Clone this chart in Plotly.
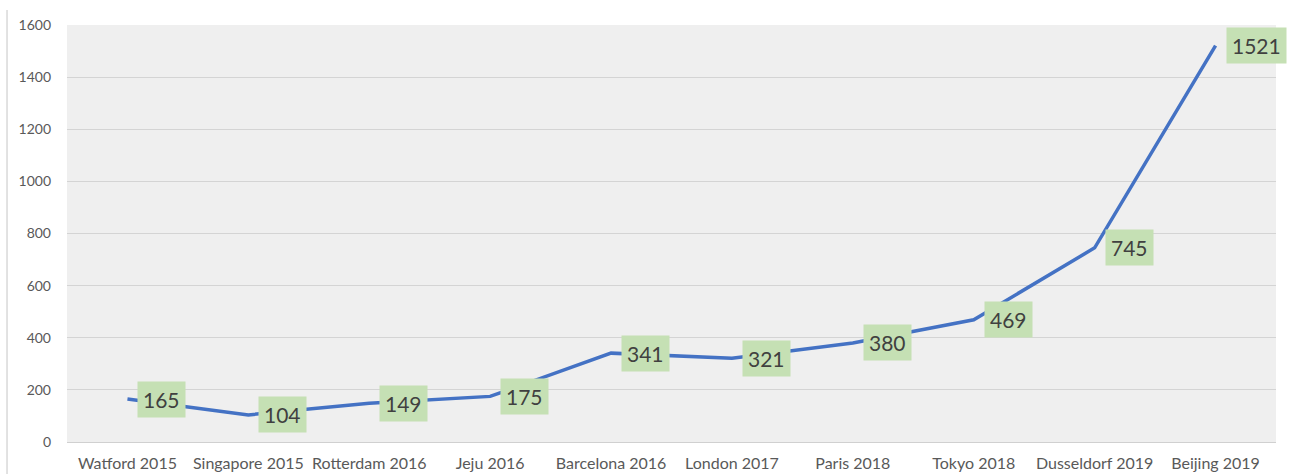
import plotly.graph_objects as go

categories = ["Watford 2015", "Singapore 2015", "Rotterdam 2016", "Jeju 2016", "Barcelona 2016",
              "London 2017", "Paris 2018", "Tokyo 2018", "Dusseldorf 2019", "Beijing 2019"]
values = [165, 104, 149, 175, 341, 321, 380, 469, 745, 1521]
y_ticks = [0, 200, 400, 600, 800, 1000, 1200, 1400, 1600]

fig = go.Figure()
fig.add_trace(go.Scatter(
    x=categories, y=values, mode="lines",
    line=dict(color="#4472c4", width=3.5),
    hoverinfo="x+y",
))

for c, v in zip(categories, values):
    fig.add_annotation(
        x=c, y=v, text=str(v), showarrow=False,
        xanchor="left", yanchor="middle", xshift=10, yshift=0,
        bgcolor="#c5e0b4", borderpad=5,
        font=dict(family="Lato", size=21, color="#404040"),
    )

fig.add_shape(type="line", xref="paper", yref="paper",
              x0=-0.0496, x1=-0.0496, y0=-0.08, y1=1.036,
              line=dict(color="#d9d9d9", width=1.5))

fig.update_layout(
    width=1293, height=474,
    margin=dict(l=67, r=17, t=25, b=32, autoexpand=False),
    paper_bgcolor="white", plot_bgcolor="#efefef",
    showlegend=False,
    font=dict(family="Lato", color="#595959"),
    xaxis=dict(
        type="category", range=[-0.5, 9.5], showgrid=False,
        showline=True, linecolor="#d0d0d0", linewidth=1,
        tickfont=dict(size=16, color="#595959"), ticks="",
        ticklabelstandoff=7, automargin=False,
        fixedrange=True,
    ),
    yaxis=dict(
        range=[0, 1600], tickvals=y_ticks, showgrid=True,
        gridcolor="#d4d4d4", gridwidth=1, zeroline=False,
        tickfont=dict(size=14, color="#595959"), ticks="",
        ticklabelstandoff=15, automargin=False,
    ),
)

fig.write_html("out.html", config={"displayModeBar": False},
               post_script="document.body.style.margin='0';document.body.style.overflow='hidden';")
